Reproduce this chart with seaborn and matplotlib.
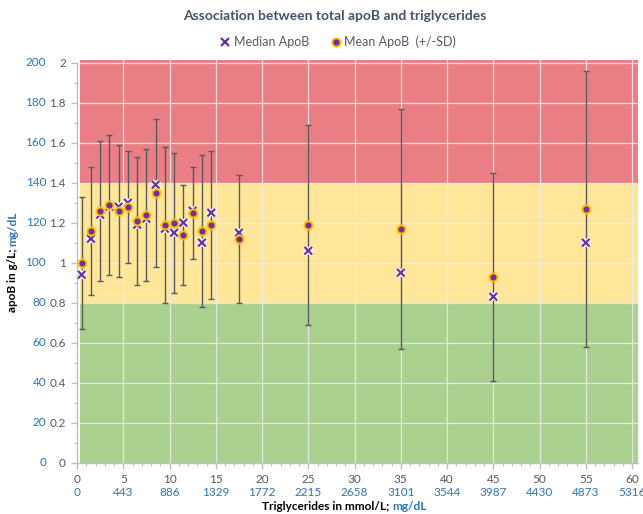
import numpy as np
import pandas as pd
import seaborn as sns
import matplotlib.pyplot as plt
import matplotlib.patheffects as pe
from matplotlib.lines import Line2D

# Triglyceride bins (mmol/L) and apoB statistics (g/L)
tg_mmol = [0.5, 1.5, 2.5, 3.5, 4.5, 5.5, 6.5, 7.5, 8.5, 9.5, 10.5, 11.5, 12.5,
           13.5, 14.5, 17.5, 25, 35, 45, 55]
apob_mean = [1.00, 1.16, 1.26, 1.29, 1.26, 1.28, 1.21, 1.24, 1.35, 1.19, 1.20,
             1.14, 1.25, 1.16, 1.19, 1.12, 1.19, 1.17, 0.93, 1.27]
apob_median = [0.94, 1.12, 1.24, 1.28, 1.28, 1.30, 1.19, 1.22, 1.39, 1.17, 1.15,
               1.20, 1.26, 1.10, 1.25, 1.15, 1.06, 0.95, 0.83, 1.10]
apob_sd = [0.33, 0.32, 0.35, 0.35, 0.33, 0.28, 0.32, 0.33, 0.37, 0.39, 0.35,
           0.25, 0.23, 0.38, 0.37, 0.32, 0.50, 0.60, 0.52, 0.69]

# Axis ticks and the mg/dL equivalents
x_ticks = [0, 5, 10, 15, 20, 25, 30, 35, 40, 45, 50, 55, 60]
x_mgdl_labels = ["0", "443", "886", "1329", "1772", "2215", "2658", "3101",
                 "3544", "3987", "4430", "4873", "5316"]
y_ticks = [0, 0.2, 0.4, 0.6, 0.8, 1.0, 1.2, 1.4, 1.6, 1.8, 2.0]
y_tick_labels = ["0", "0.2", "0.4", "0.6", "0.8", "1", "1.2", "1.4", "1.6", "1.8", "2"]
y_mgdl_labels = ["0", "20", "40", "60", "80", "100", "120", "140", "160", "180", "200"]

# Risk zones (g/L)
band_edges = [0, 0.8, 1.4, 2.015]
band_colors = ["#A9D08E", "#FFE699", "#E97F84"]

df = pd.DataFrame({"tg": tg_mmol, "mean": apob_mean,
                   "median": apob_median, "sd": apob_sd})

sns.set_style("ticks")
plt.rcParams["font.family"] = ["Lato", "DejaVu Sans"]

GRAY = "#595959"
BLUE = "#2E75B6"
PURPLE = "#7030A0"
GOLD = "#FFC000"

fig = plt.figure(figsize=(6.43, 5.14), dpi=100)
ax = fig.add_axes([77 / 643, (514 - 462.7) / 514, 560.6 / 643, 403 / 514])
xmax = 60.6
ax.set_xlim(0, xmax)
ax.set_ylim(0, 2.015)

# coloured zones
for lo, hi, c in zip(band_edges[:-1], band_edges[1:], band_colors):
    ax.axhspan(lo, hi, xmin=0.3 / xmax, xmax=1.0, color=c, lw=0, zorder=0)

# light grid over the zones
for xv in x_ticks[1:]:
    ax.axvline(xv, color="#EDEDED", lw=0.9, alpha=0.85, zorder=0.5)
for yv in y_ticks[1:]:
    ax.axhline(yv, xmin=0.3 / xmax, color="#EDEDED", lw=0.9, alpha=0.85, zorder=0.5)

# SD error bars
ax.errorbar(df["tg"], df["mean"], yerr=df["sd"], fmt="none", ecolor=GRAY,
            elinewidth=1.0, capsize=2.5, capthick=1.0, zorder=2)

# medians (x markers with white outline) and means (dots with gold rim)
sns.scatterplot(data=df, x="tg", y="median", ax=ax, marker="x", color=PURPLE,
                s=30, linewidth=1.6, zorder=3,
                path_effects=[pe.withStroke(linewidth=3.4, foreground="white")])
sns.scatterplot(data=df, x="tg", y="mean", ax=ax, marker="o", color=PURPLE,
                edgecolor=GOLD, linewidth=1.4, s=34, zorder=4)

# axes styling
for s in ["top", "right"]:
    ax.spines[s].set_visible(False)
for s in ["left", "bottom"]:
    ax.spines[s].set_color("#BFBFBF")
    ax.spines[s].set_linewidth(1.0)
ax.spines["left"].set_bounds(0, 2.0)

ax.set_xticks(x_ticks)
ax.set_xticklabels([str(v) for v in x_ticks])
ax.set_xticks(np.arange(0, 61, 1), minor=True)
ax.set_yticks(y_ticks)
ax.set_yticklabels(y_tick_labels)
ax.set_yticks(np.arange(0, 2.01, 0.1), minor=True)
ax.tick_params(axis="both", which="major", colors="#BFBFBF", labelcolor=GRAY,
               labelsize=8.5, length=4, width=1)
ax.tick_params(axis="both", which="minor", colors="#BFBFBF", length=2.5, width=0.8)
ax.tick_params(axis="y", which="major", pad=4)
ax.tick_params(axis="x", which="major", pad=4)
ax.set_xlabel("")
ax.set_ylabel("")

# mg/dL tick labels
for yv, lab in zip(y_ticks, y_mgdl_labels):
    ax.text(-0.055, yv, lab, transform=ax.get_yaxis_transform(), ha="right",
            va="center", color=BLUE, fontsize=8.5)
for xv, lab in zip(x_ticks, x_mgdl_labels):
    ax.text(xv, -0.074, lab, transform=ax.get_xaxis_transform(), ha="center",
            va="center", color=BLUE, fontsize=8.5)

# two-colour axis titles
fig.canvas.draw()
renderer = fig.canvas.get_renderer()

t1 = fig.text(0, 0, "Triglycerides in mmol/L; ", fontsize=8.5, weight="bold",
              color="black", va="center")
t2 = fig.text(0, 0, "mg/dL", fontsize=8.5, weight="bold", color=BLUE, va="center")
w1 = t1.get_window_extent(renderer).width
w2 = t2.get_window_extent(renderer).width
cx, cy = 344, 514 - 507
x0 = cx - (w1 + w2) / 2
t1.set_position((x0 / 643, cy / 514))
t2.set_position(((x0 + w1) / 643, cy / 514))

t3 = fig.text(0, 0, "apoB in g/L; ", fontsize=8.5, weight="bold", color="black",
              rotation=90, ha="center", va="bottom")
t4 = fig.text(0, 0, "mg/dL", fontsize=8.5, weight="bold", color=BLUE,
              rotation=90, ha="center", va="bottom")
h3 = t3.get_window_extent(renderer).height
h4 = t4.get_window_extent(renderer).height
lx, ly = 13, 514 - 262
y0 = ly - (h3 + h4) / 2
t3.set_position((lx / 643, y0 / 514))
t4.set_position((lx / 643, (y0 + h3) / 514))

# title and legend
fig.text(335 / 643, 1 - 16 / 514, "Association between total apoB and triglycerides",
         ha="center", va="center", fontsize=10, weight="bold", color="#44546A")
handles = [
    Line2D([], [], ls="none", marker="x", color=PURPLE, markersize=6, mew=1.6),
    Line2D([], [], ls="none", marker="o", markerfacecolor=PURPLE,
           markeredgecolor=GOLD, markersize=6, mew=1.4),
]
fig.legend(handles, ["Median ApoB", "Mean ApoB  (+/-SD)"], ncol=2, frameon=False,
           loc="center", bbox_to_anchor=(337 / 643, 1 - 42 / 514), fontsize=9,
           labelcolor=GRAY, handletextpad=0.1, columnspacing=1.5, handlelength=1.2)

fig.savefig("out.png", dpi=100)
